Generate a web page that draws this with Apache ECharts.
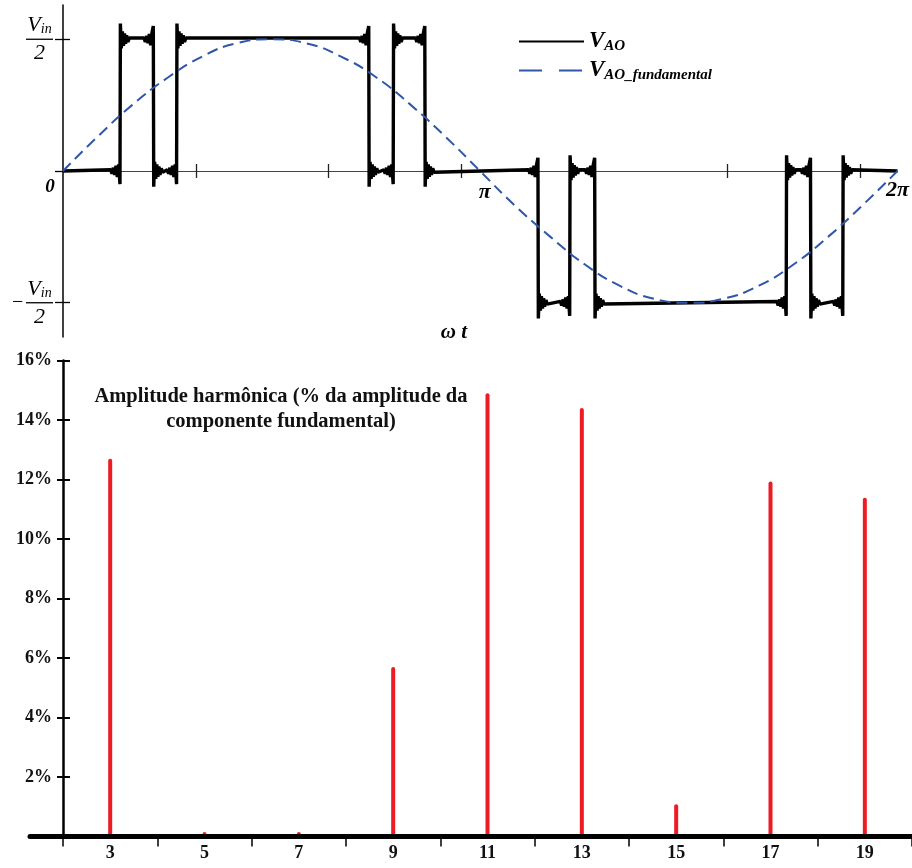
<!DOCTYPE html>
<html><head><meta charset="utf-8">
<script src="https://cdn.jsdelivr.net/npm/echarts@6/dist/echarts.min.js"></script>
<style>html,body{margin:0;padding:0;background:#fff}#c{width:912px;height:868px}</style>
</head><body><div id="c"></div>
<script>
const SERIF = '"Liberation Serif","Times New Roman",serif';

// ---- Top chart: V_AO (levels in units of Vin/2, angle in rad) ----
const switchAngles = [0.429, 0.680, 0.855, 2.302, 2.486, 2.724, 3.576, 3.815, 4.003, 5.445, 5.628, 5.871];
const switchLevels = [1, 0, 1, 0, 1, 0, -1, 0, -1, 0, -1, 0];
const edgeSpikes = [0.10, 0.12];           // undershoot before edge, overshoot after edge
const rippleBefore = [[-0.07, 0.01], [-0.06, -0.02], [-0.05, 0.025], [-0.04, -0.03], [-0.03, 0.04], [-0.02, -0.045], [-0.01, 0.05]];
const rippleAfter = [[0.01, -0.07], [0.018, 0.06], [0.026, -0.05], [0.034, 0.045], [0.042, -0.035], [0.05, 0.03], [0.06, -0.02], [0.07, 0.01]];
const periodEnd = 6.2832;

// Fundamental
const fundamentalAngles = [0, 0.26, 0.52, 0.79, 1.05, 1.31, 1.57, 1.83, 2.09, 2.36, 2.62, 2.88, 3.14, 3.40, 3.67, 3.93, 4.19, 4.45, 4.71, 4.97, 5.24, 5.50, 5.76, 6.02, 6.2832];
const fundamentalValues = [0, 0.26, 0.5, 0.71, 0.87, 0.97, 1, 0.97, 0.87, 0.71, 0.5, 0.26, 0, -0.26, -0.5, -0.71, -0.87, -0.97, -1, -0.97, -0.87, -0.71, -0.5, -0.26, 0];

const topXTickValues = [1, 2, 3, 4, 5, 6];
const topXLabelValues = [0, 3.1416, 6.2832];
const topXLabels = ['0', 'π', '2π'];

// ---- Bottom chart: harmonic spectrum ----
const harmonicOrders = [3, 5, 7, 9, 11, 13, 15, 17, 19];
const harmonicAmplitudes = [12.7, 0.15, 0.15, 5.7, 14.9, 14.4, 1.08, 11.93, 11.39];
const harmonicTickValues = [2, 4, 6, 8, 10, 12, 14, 16, 18, 20];
const percentTicks = [2, 4, 6, 8, 10, 12, 14, 16];

// build V_AO point list from the read switching instants
const vao = [[0, 0]];
let level = 0;
switchAngles.forEach((a, i) => {
  const nl = switchLevels[i];
  const d = Math.sign(nl - level);
  rippleBefore.forEach(([dx, dy]) => vao.push([a + dx, level + dy]));
  vao.push([a, level - edgeSpikes[0] * d]);
  vao.push([a + 0.003, nl + edgeSpikes[1] * d]);
  rippleAfter.forEach(([dx, dy]) => vao.push([a + dx, nl + dy * d]));
  level = nl;
});
vao.push([periodEnd, 0]);
const fundamental = fundamentalAngles.map((a, i) => [a, fundamentalValues[i]]);

const chart = echarts.init(document.getElementById('c'));
const fracRich = {
  n: { fontFamily: SERIF, fontStyle: 'italic', fontSize: 22, lineHeight: 24, align: 'center', color: '#000' },
  s: { fontFamily: SERIF, fontStyle: 'italic', fontSize: 14, lineHeight: 15, padding: [9, 0, 0, 0], align: 'center', color: '#000' },
  b: { width: 27, height: 1.3, backgroundColor: '#000', lineHeight: 4, align: 'center' },
  d: { fontFamily: SERIF, fontStyle: 'italic', fontSize: 22, lineHeight: 24, align: 'center', color: '#000' },
  m: { fontFamily: SERIF, fontSize: 20, width: 14, lineHeight: 4, align: 'left', color: '#000' },
  sp: { width: 14, align: 'left' }
};
const subRich = {
  v: { fontFamily: SERIF, fontStyle: 'italic', fontWeight: 'bold', fontSize: 23, lineHeight: 24, color: '#000' },
  s: { fontFamily: SERIF, fontStyle: 'italic', fontWeight: 'bold', fontSize: 15, lineHeight: 16, padding: [10, 0, 0, 0], color: '#000' }
};
const zeroOffset = -166;   // top grid: value 0 lies 166 px above the grid bottom

chart.setOption({
  animation: false,
  backgroundColor: '#fff',
  title: [
    { text: 'ω t', left: 449, top: 317, textAlign: 'center',
      textStyle: { fontFamily: SERIF, fontStyle: 'italic', fontWeight: 'bold', fontSize: 21, color: '#000' } },
    { text: 'Amplitude harmônica (% da amplitude da\ncomponente fundamental)', left: 276, top: 379, textAlign: 'center',
      textStyle: { fontFamily: SERIF, fontWeight: 'bold', fontSize: 20.5, lineHeight: 25, color: '#111' } }
  ],
  legend: {
    orient: 'vertical', left: 518, top: 29, padding: 0, itemWidth: 65, itemHeight: 14, itemGap: 4,
    itemStyle: { opacity: 0 },
    data: [{ name: 'V_AO' }, { name: 'V_AO_fundamental', lineStyle: { type: [23, 17] } }],
    formatter: n => n === 'V_AO' ? '{v|V}{s|AO}' : '{v|V}{s|AO_fundamental}',
    textStyle: { rich: subRich }
  },
  grid: [
    { left: 63, right: 14, top: 5, height: 332 },
    { left: 30, right: 0, top: 360.5, bottom: 31.5 }
  ],
  xAxis: [
    { gridIndex: 0, type: 'value', min: 0, max: periodEnd, position: 'bottom', offset: zeroOffset,
      axisLine: { onZero: false, lineStyle: { color: '#444', width: 1 } },
      axisTick: { customValues: topXTickValues, length: 7, lineStyle: { color: '#222', width: 1.3 } },
      axisLabel: { customValues: topXLabelValues, margin: 4,
        formatter: v => { const i = topXLabelValues.findIndex(t => Math.abs(t - v) < 0.01); return i === 0 ? '{z|' + topXLabels[0] + '}' : (i === 1 ? '{p|' + topXLabels[1] + '}' : '{q|' + topXLabels[2] + '}'); },
        rich: {
          z: { fontFamily: SERIF, fontStyle: 'italic', fontWeight: 'bold', fontSize: 19, lineHeight: 24, padding: [0, 26, 0, 0], color: '#000' },
          p: { fontFamily: SERIF, fontStyle: 'italic', fontWeight: 'bold', fontSize: 22, lineHeight: 24, padding: [10, 0, 0, 9], color: '#000' },
          q: { fontFamily: SERIF, fontStyle: 'italic', fontWeight: 'bold', fontSize: 22, lineHeight: 24, padding: [6, 0, 0, 0], color: '#000' }
        } },
      splitLine: { show: false } },
    { gridIndex: 0, type: 'value', min: 0, max: periodEnd, position: 'bottom', offset: zeroOffset,
      axisLine: { show: false, onZero: false },
      axisTick: { customValues: topXTickValues, inside: true, length: 7, lineStyle: { color: '#222', width: 1.3 } },
      axisLabel: { show: false }, splitLine: { show: false } },
    { gridIndex: 1, type: 'value', min: 1.3, max: 20, z: 5, position: 'bottom',
      axisLine: { onZero: false, lineStyle: { color: '#000', width: 5, cap: 'round' } },
      axisTick: { customValues: harmonicTickValues, length: 10, lineStyle: { color: '#000', width: 1.5 } },
      axisLabel: { customValues: harmonicOrders, margin: 8, fontFamily: SERIF, fontWeight: 'bold', fontSize: 18, color: '#111' },
      splitLine: { show: false } }
  ],
  yAxis: [
    { gridIndex: 0, type: 'value', min: -1.26, max: 1.26, position: 'left',
      axisLine: { onZero: false, lineStyle: { color: '#000', width: 1.5 } },
      axisTick: { customValues: [-1, 0, 1], length: 8, lineStyle: { color: '#000', width: 1.3 } },
      axisLabel: { customValues: [-1, 1], margin: 10,
        formatter: v => v > 0 ? '{n|V}{s|in}\n{b|}\n{d|2}' : '{sp|}{n|V}{s|in}\n{m|−}{b|}\n{sp|}{d|2}',
        rich: fracRich },
      splitLine: { show: false } },
    { gridIndex: 0, type: 'value', min: -1.26, max: 1.26, position: 'left',
      axisLine: { show: false, onZero: false },
      axisTick: { customValues: [-1, 1], inside: true, length: 7, lineStyle: { color: '#000', width: 1.3 } },
      axisLabel: { show: false }, splitLine: { show: false } },
    { gridIndex: 1, type: 'value', min: 0, max: 16, offset: -33, position: 'left',
      axisLine: { onZero: false, lineStyle: { color: '#000', width: 2.5 } },
      axisTick: { customValues: percentTicks, length: 6, lineStyle: { color: '#000', width: 2 } },
      axisLabel: { customValues: percentTicks, margin: 11, formatter: v => v + '%', fontFamily: SERIF, fontWeight: 'bold', fontSize: 18, color: '#111' },
      splitLine: { show: false } },
    { gridIndex: 1, type: 'value', min: 0, max: 16, offset: -33, position: 'left',
      axisLine: { show: false, onZero: false },
      axisTick: { customValues: percentTicks, inside: true, length: 7, lineStyle: { color: '#000', width: 2 } },
      axisLabel: { show: false }, splitLine: { show: false } }
  ],
  series: [
    { name: 'V_AO', type: 'line', xAxisIndex: 0, yAxisIndex: 0, data: vao, symbol: 'none', z: 3,
      lineStyle: { color: '#000', width: 3.4 }, itemStyle: { color: '#000' } },
    { name: 'V_AO_fundamental', type: 'line', xAxisIndex: 0, yAxisIndex: 0, data: fundamental, smooth: true, symbol: 'none', z: 4,
      lineStyle: { color: '#2f56a8', width: 2, type: [11, 6] }, itemStyle: { color: '#2f56a8' } },
    { name: 'harm', type: 'bar', xAxisIndex: 2, yAxisIndex: 2, barWidth: 4,
      data: harmonicOrders.map((h, i) => [h, harmonicAmplitudes[i]]),
      itemStyle: { color: '#ed1c24', borderRadius: [2, 2, 0, 0] } }
  ]
});
</script></body></html>
